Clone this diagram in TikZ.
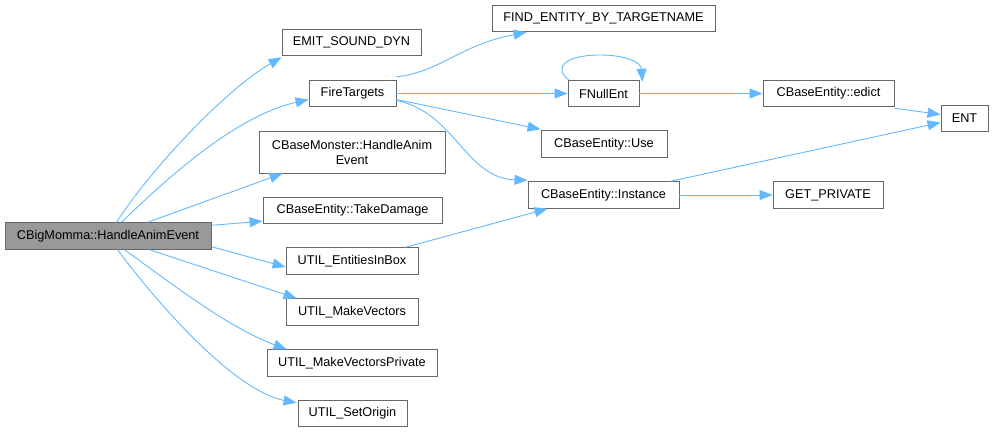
\documentclass[tikz,border=0pt]{standalone}
\usepackage{fontspec}
\setmainfont{Liberation Sans}
\usetikzlibrary{arrows.meta}
\definecolor{edgec}{HTML}{63B8FF}
\definecolor{bordc}{HTML}{666666}
\definecolor{mainc}{HTML}{999999}
\tikzset{
  box/.style={draw=bordc, line width=0.9pt, fill=white, inner sep=0pt, minimum height=26.5pt,
    font=\fontsize{12.7}{15}\selectfont, text=black, align=center},
  mainbox/.style={box, fill=mainc},
  conn/.style={draw=edgec, line width=0.9pt, -{Triangle[length=13pt,width=10pt]}}
}
\begin{document}
\begin{tikzpicture}[x=1pt,y=-1pt]
\useasboundingbox (0,0) rectangle (993,432);
\node[mainbox, minimum width=206pt] (main) at (108,236) {CBigMomma::HandleAnimEvent};
\node[box, minimum width=139pt] (emit) at (351.5,42.5) {EMIT\_SOUND\_DYN};
\node[box, minimum width=87pt] (fire) at (352.5,93.5) {FireTargets};
\node[box, minimum width=186pt, minimum height=42pt] (monster) at (352,152) {CBaseMonster::HandleAnim\\Event};
\node[box, minimum width=179pt] (take) at (352.5,210.5) {CBaseEntity::TakeDamage};
\node[box, minimum width=132pt] (inbox) at (352,261) {UTIL\_EntitiesInBox};
\node[box, minimum width=132pt] (makev) at (352,312) {UTIL\_MakeVectors};
\node[box, minimum width=170pt] (makevp) at (352,363) {UTIL\_MakeVectorsPrivate};
\node[box, minimum width=109pt] (setorig) at (352.5,413.5) {UTIL\_SetOrigin};
\node[box, minimum width=223pt] (find) at (603.5,18.5) {FIND\_ENTITY\_BY\_TARGETNAME};
\node[box, minimum width=71pt] (fnull) at (603.5,93.5) {FNullEnt};
\node[box, minimum width=126pt] (use) at (604,144) {CBaseEntity::Use};
\node[box, minimum width=151pt] (inst) at (603.5,195) {CBaseEntity::Instance};
\node[box, minimum width=131pt] (edict) at (828.5,93.5) {CBaseEntity::edict};
\node[box, minimum width=110pt] (getp) at (828,195) {GET\_PRIVATE};
\node[box, minimum width=47pt] (ent) at (964.5,118.5) {ENT};

% edges from main
\draw[conn] ([xshift=112pt]main.north west) .. controls (150,170) and (225,90) .. ([yshift=-1pt]emit.south west);
\draw[conn] ([xshift=117pt]main.north west) .. controls (175,170) and (240,115) .. ([yshift=-6pt]fire.west);
\draw[conn] ([xshift=143pt]main.north west) -- ([xshift=24pt]monster.south west);
\draw[conn] ([yshift=-3pt]main.north east) -- ([yshift=3pt]take.south west);
\draw[conn] ([yshift=3pt]main.south east) -- ([yshift=-6pt]inbox.west);
\draw[conn] ([xshift=145pt]main.south west) -- ([xshift=11pt]makev.north west);
\draw[conn] ([xshift=120pt]main.south west) .. controls (180,290) and (230,328) .. ([xshift=20pt]makevp.north west);
\draw[conn] ([xshift=113pt]main.south west) .. controls (170,320) and (240,392) .. ([yshift=-3pt,xshift=-1pt]setorig.north west);

% from FireTargets
\draw[conn] ([yshift=3pt]fire.north east) .. controls (440,72) and (460,45) .. ([xshift=35pt]find.south west);
\draw[conn] (fire.east) -- (fnull.west);
\draw[conn] ([yshift=-6pt]fire.east) -- ([yshift=1pt]use.north west);
\draw[conn] ([yshift=-7pt]fire.east) .. controls (455,112) and (465,178) .. ([yshift=1pt]inst.north west);

% FNullEnt self loop
\draw[conn] ([xshift=1pt]fnull.north west) .. controls (553,68) and (565,55) .. (600,55) .. controls (625,55) and (641,62) .. ([xshift=3pt,yshift=-2pt]fnull.north east);

\draw[conn] (fnull.east) -- (edict.west);
\draw[conn] ([yshift=-1pt]edict.south east) -- ([yshift=4pt]ent.west);
\draw[conn] ([xshift=-9pt]inst.north east) -- ([yshift=-4pt]ent.west);
\draw[conn] (inst.east) -- (getp.west);
\draw[conn] ([xshift=-13pt]inbox.north east) -- ([xshift=20pt]inst.south west);
\end{tikzpicture}
\end{document}
